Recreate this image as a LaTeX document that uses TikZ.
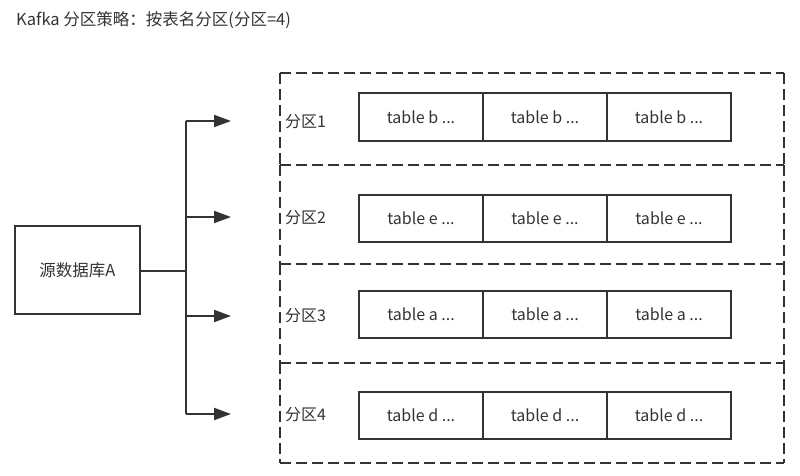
\documentclass[tikz,border=0pt]{standalone}
\usepackage{fontspec}
\setmainfont{Noto Sans CJK SC}
\usetikzlibrary{arrows.meta}
\definecolor{ink}{HTML}{333333}
\tikzset{
  txt/.style={text=ink, font=\fontsize{16}{19}\selectfont, inner sep=0pt},
  part/.style={minimum width=504pt, inner sep=0pt},
  dashline/.style={draw=ink, line width=2.3pt, dash pattern=on 11pt off 5pt},
  cell/.style={txt, draw=ink, line width=2pt, minimum width=124pt, minimum height=47pt},
  srcbox/.style={txt, draw=ink, line width=2pt, minimum width=125pt, minimum height=88pt},
  wire/.style={draw=ink, line width=2pt},
  arr/.style={wire, -{Triangle[length=17pt,width=12pt]}}
}
\begin{document}
\begin{tikzpicture}[x=1pt,y=-1pt]
\useasboundingbox (0,0) rectangle (800,476);
\node[txt, anchor=west, font=\fontsize{16.5}{19}\selectfont] (title) at (16,20) {Kafka 分区策略：按表名分区(分区=4)};
% partitions (containers)
\node[part, minimum height=92pt] (p1) at (532,119) {};
\node[part, minimum height=99pt] (p2) at (532,214.5) {};
\node[part, minimum height=99pt] (p3) at (532,313.5) {};
\node[part, minimum height=100pt] (p4) at (532,413) {};
\foreach \p in {p1,p2,p3,p4}{
  \draw[dashline] (\p.north west) -- (\p.north east);
  \draw[dashline] (\p.south west) -- (\p.south east);
  \draw[dashline] (\p.north west) -- (\p.south west);
  \draw[dashline] (\p.north east) -- (\p.south east);
}
% labels
\node[txt, anchor=west] (l1) at (285,122) {分区1};
\node[txt, anchor=west] (l2) at (285,218) {分区2};
\node[txt, anchor=west] (l3) at (285,316) {分区3};
\node[txt, anchor=west] (l4) at (285,415) {分区4};
% cells
\node[cell] (b1) at (421,117) {table b ...};
\node[cell] (b2) at (545,117) {table b ...};
\node[cell] (b3) at (669,117) {table b ...};
\node[cell] (e1) at (421,218) {table e ...};
\node[cell] (e2) at (545,218) {table e ...};
\node[cell] (e3) at (669,218) {table e ...};
\node[cell] (a1) at (421,314.5) {table a ...};
\node[cell] (a2) at (545,314.5) {table a ...};
\node[cell] (a3) at (669,314.5) {table a ...};
\node[cell] (d1) at (421,415) {table d ...};
\node[cell] (d2) at (545,415) {table d ...};
\node[cell] (d3) at (669,415) {table d ...};
% source
\node[srcbox, font=\fontsize{16.5}{19}\selectfont] (src) at (77.5,270) {源数据库A};
% connectors
\coordinate (jm) at (186,271);
\coordinate (j1) at (186,121);
\coordinate (j2) at (186,217);
\coordinate (j3) at (186,316);
\coordinate (j4) at (186,414);
\coordinate (t1) at (231,121);
\coordinate (t2) at (231,217);
\coordinate (t3) at (231,316);
\coordinate (t4) at (231,414);
\draw[wire, line width=2.5pt] (src.east |- jm) -- (jm);
\draw[wire] (j1) -- (j4);
\draw[arr] (j1) -- (t1);
\draw[arr] (j2) -- (t2);
\draw[arr] (j3) -- (t3);
\draw[arr] (j4) -- (t4);
\end{tikzpicture}
\end{document}
